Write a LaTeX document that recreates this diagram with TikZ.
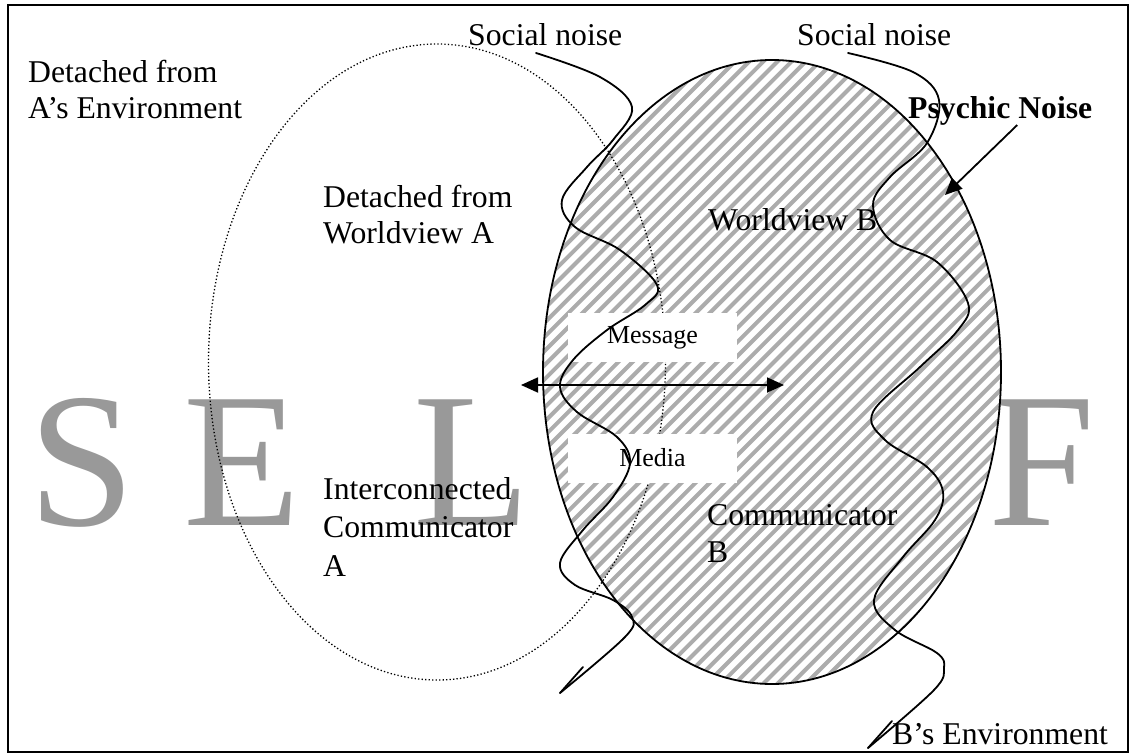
\documentclass[tikz,border=0pt]{standalone}
\usepackage{fontspec}
\setmainfont{Liberation Serif}
\usetikzlibrary{arrows.meta}
\definecolor{selfgray}{RGB}{153,153,153}
\definecolor{hatchgray}{RGB}{172,172,172}
\begin{document}
\begin{tikzpicture}[x=1pt,y=-1pt,
  lbl/.style={inner sep=0pt, anchor=base west, font=\fontsize{31.7}{36}\selectfont},
  boxlbl/.style={inner sep=0pt, font=\fontsize{26}{30}\selectfont, fill=white, minimum width=169pt, minimum height=49pt},
  big/.style={inner sep=0pt, anchor=base west, text=selfgray, font=\fontsize{192}{192}\selectfont},
  noise/.style={line width=1.8pt, line join=round, line cap=round},
  arr/.style={line width=1.8pt, -{Triangle[length=17pt,width=15pt]}},
  darr/.style={line width=1.8pt, {Triangle[length=17pt,width=15pt]}-{Triangle[length=17pt,width=15pt]}},
]
\useasboundingbox (0,0) rectangle (1130,755);
% big SELF letters
\node[big] (S) at (28,525) {S};
\node[big] (E) at (183,525) {E};
\node[big] (L) at (413,525) {L};
\node[big] (F) at (988,525) {F};
% hatched ellipse B
\fill[white] (772,372) ellipse [x radius=229pt, y radius=312pt];
\begin{scope}
  \clip (772,372) ellipse [x radius=229pt, y radius=312pt];
  \foreach \c in {740,754.14,...,1560} \draw[hatchgray, line width=4pt] (\c-20,20) -- (\c-740,740);
\end{scope}
\draw[line width=1.8pt] (772,372) ellipse [x radius=229pt, y radius=312pt];
% dotted ellipse A
\draw[line width=1.3pt, dash pattern=on 1.3pt off 2.2pt] (437,362) ellipse [x radius=228.5pt, y radius=318pt];
% white label boxes
\node[boxlbl] (msg) at (652.5,337.5) {Message};
\node[boxlbl] (med) at (652.5,458) {Media};
% social noise curves
\draw[noise] plot[smooth, tension=0.6] coordinates {(536,53) (600,77) (632,107) (613,140) (587,167) (562,200) (575,227) (620,250) (657,285) (645,305) (607,330) (573,360) (560,387) (577,412) (617,437) (630,463) (613,497) (583,530) (560,563) (575,585) (613,600) (632,617) (625,637) (560,693)};
\coordinate (n1e) at (560,693);
\coordinate (n1t) at (583,667);
\draw[noise] (n1e) -- (n1t);
\draw[noise] plot[smooth, tension=0.6] coordinates {(848,53) (913,72) (939,100) (927,143) (890,177) (873,205) (890,240) (937,262) (968,303) (958,330) (920,367) (873,412) (885,440) (927,467) (943,492) (935,520) (903,557) (874,600) (895,630) (937,653) (944,668) (934,690) (868,748)};
\coordinate (n2e) at (868,748);
\coordinate (n2t) at (892,721);
\draw[noise] (n2e) -- (n2t);
% message arrow
\coordinate (dl) at (521,385);
\coordinate (dr) at (784,385);
\draw[darr] (dl) -- (dr);
% texts
\node[lbl] (dA1) at (28,82) {Detached from};
\node[lbl] (dA2) at (28,118) {A’s Environment};
\node[lbl] (sn1) at (468,45) {Social noise};
\node[lbl] (sn2) at (797,45) {Social noise};
\node[lbl, font=\fontsize{31.7}{36}\selectfont\bfseries] (psy) at (908,118) {Psychic Noise};
\node[lbl] (dw1) at (323,207) {Detached from};
\node[lbl] (dw2) at (323,243) {Worldview A};
\node[lbl] (wvb) at (708,230) {Worldview B};
\node[lbl] (ic1) at (323,499) {Interconnected};
\node[lbl] (ic2) at (323,537) {Communicator};
\node[lbl] (ic3) at (323,576) {A};
\node[lbl] (cb1) at (707,525) {Communicator};
\node[lbl] (cb2) at (707,562) {B};
\node[lbl] (benv) at (892,744) {B’s Environment};
% psychic noise arrow
\coordinate (pb) at (945,195);
\draw[arr] ([xshift=17pt]psy.south) -- (pb);
% frame
\draw[line width=2pt] (8,5) rectangle (1128,752);
\end{tikzpicture}
\end{document}
